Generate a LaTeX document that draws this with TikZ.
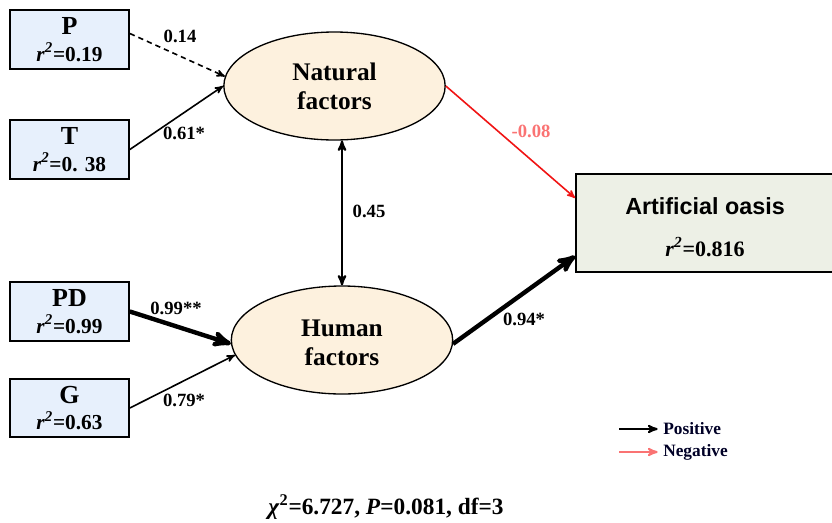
\documentclass[tikz,border=0pt]{standalone}
\usepackage{fontspec}
\setmainfont{Liberation Serif}
\newfontfamily\arialfont{Liberation Sans}
\usetikzlibrary{arrows,shapes.geometric}
\definecolor{obsblue}{RGB}{231,240,252}
\definecolor{latentbg}{RGB}{253,241,222}
\definecolor{oasisbg}{RGB}{237,240,230}
\definecolor{negred}{RGB}{240,20,20}
\definecolor{negpink}{RGB}{250,115,115}
\newcommand{\rsq}{\textit{r}\textsuperscript{\textit{2}}}
\newcommand{\boxtitle}[1]{{\fontsize{19.5}{20}\selectfont #1}}
\tikzset{
        obsnode/.style = {rectangle, draw=black, line width=1.5pt, fill=obsblue,
            minimum width=89pt, minimum height=44pt, align=center, inner sep=0pt,
            font=\bfseries\fontsize{16}{20}\selectfont},
        latnode/.style = {ellipse, draw=black, line width=1pt, fill=latentbg,
            minimum width=166pt, minimum height=81pt, align=center, inner sep=0pt,
            font=\bfseries\fontsize{19}{22}\selectfont},
        outnode/.style = {rectangle, draw=black, line width=1.3pt, fill=oasisbg,
            minimum width=193.5pt, minimum height=73.5pt, align=center, inner sep=0pt,
            font=\bfseries\fontsize{16.5}{31}\selectfont},
        path_n/.style = {->, >=stealth', line width=1.2pt},
        path_t/.style = {path_n, line width=3.3pt},
        path_r/.style = {path_n, draw=negred},
        lbl/.style = {inner sep=0pt, font=\bfseries\fontsize{14}{16}\selectfont},
        lgd/.style = {inner sep=0pt, text=black!85!blue, font=\bfseries\fontsize{13}{16}\selectfont}
    }

\begin{document}
\begin{tikzpicture}[x=0.75pt, y=-0.75pt]
    \useasboundingbox (0,0) rectangle (832,522);
    % observed variables
    \node [obsnode] (P)  at (69.5,39.5)  {\boxtitle{P}\\\rsq=0.19};
    \node [obsnode] (T)  at (69.5,149.5) {\boxtitle{T}\\\rsq=0. 38};
    \node [obsnode] (PD) at (69.5,311.5) {\boxtitle{PD}\\\rsq=0.99};
    \node [obsnode] (G)  at (69.5,408)   {\boxtitle{G}\\\rsq=0.63};
    % latent factors
    \node [latnode] (nat) at (334.5,86) {Natural\\factors};
    \node [latnode] (hum) at (342,340)  {\rule{0pt}{17pt}Human\\factors};
    % outcome
    \node [outnode] (oasis) at (705,223)
        {\rule{0pt}{19pt}{\arialfont\fontsize{17.5}{31}\selectfont Artificial oasis}\\\rsq=0.816};

    \draw [path_n, dash pattern=on 4pt off 3pt] ([yshift=4.5pt]P.east) -- (nat.175);
    \draw [path_n] (T.east) -- (nat.west);
    \draw [path_t] (PD.east) -- (hum.182);
    \draw [path_n] (G.east) -- (hum.188);
    \draw [path_r] (nat.east) -- ([yshift=18.75pt]oasis.west);
    \draw [path_t] (hum.358) -- ([yshift=-24.75pt]oasis.west);
    \draw [path_n, <->, line width=1.6pt] (nat.south -| hum.north) -- (hum.north);

    % path coefficients
    \node [lbl] (c14) at (180,36)  {0.14};
    \node [lbl] (c61) at (184,133) {0.61*};
    \node [lbl] (c99) at (176,308) {0.99**};
    \node [lbl] (c79) at (184,400) {0.79*};
    \node [lbl, text=negpink] (c08) at (531,131) {-0.08};
    \node [lbl] (c45) at (369,211) {0.45};
    \node [lbl] (c94) at (524,319) {0.94*};

    % legend
    \coordinate (posfrom) at (619,429);
    \coordinate (negfrom) at (619,452);
    \node [lgd, anchor=west] (pos) at (663,429) {Positive};
    \node [lgd, anchor=west] (neg) at (663,452) {Negative};
    \draw [->, >=stealth', line width=1.5pt] (posfrom) -- ([xshift=-4pt]pos.west);
    \draw [->, >=stealth', line width=1.5pt, draw=negpink] (negfrom) -- ([xshift=-4pt]neg.west);

    \node [inner sep=0pt, font=\bfseries\fontsize{17.5}{20}\selectfont] (fit) at (386,507)
        {\textit{χ}\textsuperscript{2}=6.727, \textit{P}=0.081, df=3};
\end{tikzpicture}
\end{document}
